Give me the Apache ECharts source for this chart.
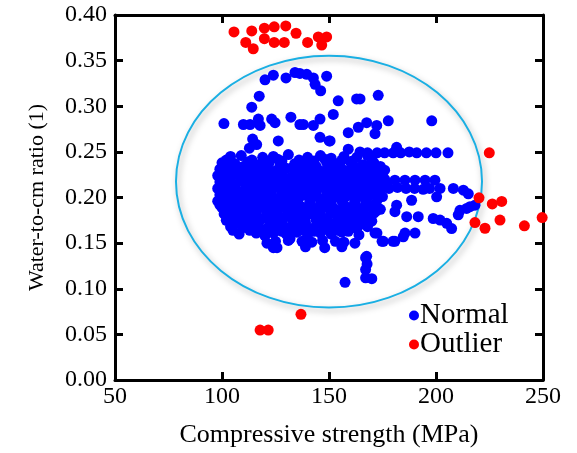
<!DOCTYPE html>
<html>
<head>
<meta charset="utf-8">
<script src="https://cdn.jsdelivr.net/npm/echarts@6/dist/echarts.min.js"></script>
<style>
  html, body { margin: 0; padding: 0; background: #fff; }
  #chart { width: 577px; height: 453px; }
</style>
</head>
<body>
<div id="chart"></div>
<script>
const xTicks = [50, 100, 150, 200, 250];
const yTicks = [0, 0.05, 0.1, 0.15, 0.2, 0.25, 0.3, 0.35, 0.4];

// ellipse around the normal cloud: [cx, cy, rx, ry] in data units
const ellipseSpec = [150, 0.2174, 71.5, 0.138];

const outlierPoints = [
  [105.6, 0.3815], [111.1, 0.370], [114.6, 0.363], [113.9, 0.3826], [119.8, 0.3855],
  [119.8, 0.374], [124.4, 0.387], [124.4, 0.370], [129.8, 0.388], [129.1, 0.370],
  [134.6, 0.380], [140.0, 0.370], [145.0, 0.376], [148.9, 0.376], [146.6, 0.367],
  [224.9, 0.249], [220.1, 0.1997], [226.3, 0.193], [230.7, 0.1957], [218.2, 0.1725],
  [222.9, 0.1663], [229.9, 0.1753], [241.3, 0.169], [249.6, 0.178],
  [117.8, 0.0547], [121.6, 0.0547], [136.9, 0.072]
];

const normalUpper = [
  [120.1, 0.329], [124.0, 0.334], [129.9, 0.331], [134.1, 0.337], [136.4, 0.336],
  [139.6, 0.335], [142.7, 0.331], [148.9, 0.333], [143.5, 0.324], [146.1, 0.317],
  [117.4, 0.311], [113.9, 0.299], [154.3, 0.306], [162.9, 0.308], [164.5, 0.308],
  [173.0, 0.312], [152.0, 0.291], [100.9, 0.281], [110.0, 0.280], [113.1, 0.280],
  [117.0, 0.286], [117.8, 0.279], [123.2, 0.286], [124.8, 0.282], [132.2, 0.288],
  [136.4, 0.280], [138.0, 0.280], [142.7, 0.279], [145.8, 0.286], [145.8, 0.266],
  [150.1, 0.262], [159.0, 0.271], [163.7, 0.277], [167.6, 0.282], [172.3, 0.279],
  [177.7, 0.284], [171.5, 0.270], [198.0, 0.284], [114.3, 0.264], [112.8, 0.254],
  [116.2, 0.258], [126.3, 0.262], [159.0, 0.253], [150.5, 0.262]
];

const normalRight = [
  [164.5, 0.250], [168.0, 0.249], [172.5, 0.249], [176.0, 0.249], [180.0, 0.249],
  [183.5, 0.249], [187.5, 0.250], [191.0, 0.249], [195.5, 0.249], [200.0, 0.249],
  [205.6, 0.249], [181.6, 0.255],
  [172.0, 0.221], [176.0, 0.220], [180.8, 0.219], [185.5, 0.219], [190.2, 0.219],
  [194.9, 0.219], [199.5, 0.219],
  [170.5, 0.210], [174.0, 0.209], [178.0, 0.210], [182.0, 0.211], [186.0, 0.210],
  [190.0, 0.210], [194.0, 0.209], [197.0, 0.210], [201.9, 0.210], [208.1, 0.210],
  [212.8, 0.208], [215.1, 0.204],
  [200.3, 0.2007], [188.6, 0.197], [181.6, 0.1916], [180.8, 0.1845], [186.3, 0.179],
  [191.7, 0.179], [198.7, 0.177], [201.9, 0.1753], [205.0, 0.1717], [207.3, 0.166],
  [210.4, 0.181], [211.2, 0.186], [214.3, 0.188], [215.9, 0.190], [218.2, 0.1916],
  [180.8, 0.152], [184.7, 0.157], [190.2, 0.161], [185.5, 0.161], [175.4, 0.152],
  [171.5, 0.161], [167.6, 0.1355]
];

const normalLower = [
  [157.5, 0.107], [167.1, 0.121], [167.1, 0.112], [170.0, 0.111], [167.1, 0.134],
  [167.8, 0.127],
  [105.1, 0.164], [109.8, 0.168], [120.1, 0.158], [121.0, 0.150], [125.7, 0.145],
  [131.8, 0.155], [137.4, 0.152], [138.8, 0.152], [156.5, 0.150], [162.1, 0.150],
  [174.8, 0.152], [179.9, 0.152], [172.4, 0.161]
];

const normalCore = [
  [104, 0.245], [109, 0.246], [119, 0.244], [124, 0.245], [131, 0.247], [140, 0.244], [146, 0.246],
  [151, 0.243], [157, 0.245], [163, 0.244], [168, 0.246],
  [100, 0.238], [106, 0.237], [112, 0.239], [117, 0.236], [122, 0.238], [128, 0.240], [134, 0.237],
  [138, 0.239], [143, 0.236], [149, 0.238], [154, 0.237], [160, 0.239], [166, 0.236], [171, 0.238],
  [99, 0.231], [103, 0.229], [108, 0.232], [114, 0.230], [119, 0.231], [125, 0.229], [130, 0.232],
  [136, 0.230], [141, 0.231], [146, 0.229], [152, 0.232], [157, 0.230], [162, 0.231], [167, 0.229],
  [172, 0.232], [176, 0.230],
  [98, 0.224], [102, 0.223], [107, 0.225], [111, 0.222], [116, 0.224], [121, 0.223], [127, 0.225],
  [132, 0.222], [137, 0.224], [143, 0.223], [148, 0.225], [153, 0.222], [158, 0.224], [164, 0.223],
  [169, 0.225], [174, 0.222],
  [99, 0.217], [104, 0.216], [109, 0.218], [113, 0.215], [118, 0.217], [124, 0.216], [129, 0.218],
  [134, 0.215], [139, 0.217], [145, 0.216], [150, 0.218], [155, 0.215], [161, 0.217], [166, 0.216],
  [171, 0.218], [177, 0.215],
  [98, 0.210], [101, 0.209], [106, 0.211], [111, 0.208], [116, 0.210], [120, 0.209], [126, 0.211],
  [131, 0.208], [136, 0.210], [141, 0.209], [147, 0.211], [152, 0.208], [157, 0.210], [163, 0.209],
  [168, 0.211], [173, 0.208],
  [99, 0.203], [103, 0.202], [108, 0.204], [113, 0.201], [118, 0.203], [123, 0.202], [128, 0.204],
  [133, 0.201], [138, 0.203], [144, 0.202], [149, 0.204], [154, 0.201], [160, 0.203], [165, 0.202],
  [170, 0.204], [175, 0.201],
  [98, 0.196], [101, 0.195], [106, 0.197], [110, 0.194], [115, 0.196], [120, 0.195], [125, 0.197],
  [130, 0.194], [135, 0.196], [141, 0.195], [146, 0.197], [151, 0.194], [156, 0.196], [162, 0.195],
  [167, 0.197], [172, 0.194],
  [100, 0.189], [104, 0.188], [109, 0.190], [114, 0.187], [118, 0.189], [123, 0.188], [128, 0.190],
  [133, 0.187], [138, 0.189], [143, 0.188], [148, 0.190], [153, 0.187], [159, 0.189], [164, 0.188],
  [169, 0.190], [174, 0.187],
  [101, 0.182], [106, 0.181], [111, 0.183], [116, 0.180], [121, 0.182], [126, 0.181], [131, 0.183],
  [136, 0.180], [141, 0.182], [146, 0.181], [151, 0.183], [156, 0.180], [161, 0.182], [166, 0.181],
  [171, 0.183],
  [102, 0.175], [107, 0.174], [112, 0.176], [117, 0.173], [122, 0.175], [127, 0.174], [133, 0.176],
  [139, 0.173], [144, 0.175], [149, 0.174], [154, 0.176], [160, 0.173], [165, 0.175], [170, 0.174],
  [104, 0.168], [110, 0.167], [115, 0.169], [121, 0.166], [126, 0.168], [131, 0.167], [137, 0.169],
  [142, 0.166], [148, 0.168], [153, 0.167], [158, 0.169], [163, 0.166], [168, 0.168],
  [108, 0.160], [116, 0.161], [120, 0.159], [124, 0.161], [130, 0.160], [135, 0.162], [140, 0.159],
  [146, 0.161], [151, 0.160], [156, 0.162], [164, 0.159],
  [125, 0.152], [131, 0.153], [142, 0.151], [147, 0.153], [153, 0.152], [157, 0.151],
  [124, 0.145], [139, 0.146], [148, 0.145], [156, 0.146]
];

const normalCoreFill = [
  [102, 0.241], [114, 0.241], [121, 0.240], [126, 0.242], [136, 0.241], [143, 0.240], [148, 0.242],
  [156, 0.241], [161, 0.240], [170, 0.242],
  [101, 0.234], [105, 0.235], [110, 0.234], [116, 0.233], [121, 0.235], [127, 0.234], [133, 0.233],
  [139, 0.235], [144, 0.234], [150, 0.233], [155, 0.235], [161, 0.234], [164, 0.233], [169, 0.235],
  [174, 0.234],
  [100, 0.227], [105, 0.228], [109, 0.227], [113, 0.226], [118, 0.228], [123, 0.227], [128, 0.226],
  [134, 0.228], [139, 0.227], [144, 0.226], [150, 0.228], [155, 0.227], [160, 0.226], [166, 0.228],
  [171, 0.227], [175, 0.226],
  [100, 0.220], [104, 0.221], [109, 0.220], [114, 0.219], [119, 0.221], [125, 0.220], [130, 0.219],
  [135, 0.221], [141, 0.220], [146, 0.219], [151, 0.221], [156, 0.220], [161, 0.219], [167, 0.221],
  [172, 0.220],
  [101, 0.213], [106, 0.214], [111, 0.213], [116, 0.212], [121, 0.214], [127, 0.213], [132, 0.212],
  [137, 0.214], [142, 0.213], [148, 0.212], [153, 0.214], [159, 0.213], [164, 0.212], [169, 0.214],
  [175, 0.213],
  [100, 0.206], [104, 0.207], [109, 0.206], [114, 0.205], [118, 0.207], [123, 0.206], [128, 0.205],
  [134, 0.207], [139, 0.206], [144, 0.205], [150, 0.207], [155, 0.206], [160, 0.205], [166, 0.207],
  [171, 0.206],
  [100, 0.199], [105, 0.200], [110, 0.199], [115, 0.198], [121, 0.200], [126, 0.199], [131, 0.198],
  [136, 0.200], [141, 0.199], [147, 0.198], [152, 0.200], [157, 0.199], [162, 0.198], [168, 0.200],
  [173, 0.199],
  [99, 0.192], [103, 0.193], [108, 0.192], [112, 0.191], [117, 0.193], [122, 0.192], [127, 0.191],
  [132, 0.193], [136, 0.192], [141, 0.191], [146, 0.193], [151, 0.192], [157, 0.191], [162, 0.193],
  [167, 0.192], [172, 0.191],
  [102, 0.185], [107, 0.186], [111, 0.185], [116, 0.184], [121, 0.186], [126, 0.185], [131, 0.184],
  [136, 0.186], [141, 0.185], [146, 0.184], [151, 0.186], [156, 0.185], [161, 0.184], [166, 0.186],
  [172, 0.185],
  [104, 0.178], [109, 0.179], [114, 0.178], [119, 0.177], [124, 0.179], [129, 0.178], [134, 0.177],
  [139, 0.179], [144, 0.178], [149, 0.177], [154, 0.179], [158, 0.178], [163, 0.177], [168, 0.179],
  [106, 0.171], [112, 0.172], [117, 0.171], [123, 0.170], [128, 0.172], [134, 0.171], [139, 0.170],
  [145, 0.172], [151, 0.171], [156, 0.170], [161, 0.172], [166, 0.171],
  [113, 0.164], [118, 0.165], [123, 0.164], [128, 0.163], [133, 0.165], [138, 0.164], [143, 0.163],
  [149, 0.165], [154, 0.164], [159, 0.163]
];

const normalPoints = normalUpper.concat(normalRight, normalLower, normalCore, normalCoreFill);

const serif = "'Liberation Serif', 'Times New Roman', serif";

const chart = echarts.init(document.getElementById('chart'));

function frameAxis(extra) {
  return Object.assign({
    type: 'value',
    axisLine: { show: true, onZero: false, lineStyle: { color: '#000', width: 3 } },
    axisTick: { show: true, inside: true, length: 8, lineStyle: { color: '#000', width: 3 } },
    splitLine: { show: false }
  }, extra);
}

chart.setOption({
  animation: false,
  grid: { left: 115, right: 34, top: 15, bottom: 70 },
  legend: {
    left: 404,
    top: 296,
    orient: 'vertical',
    itemGap: 0,
    itemWidth: 10,
    itemHeight: 10,
    icon: 'circle',
    textStyle: { fontFamily: serif, fontSize: 29, color: '#000', padding: [0, 0, 0, -4] },
    data: ['Normal', 'Outlier']
  },
  xAxis: [frameAxis({
    min: 50, max: 250, interval: 50,
    name: 'Compressive strength (MPa)', nameLocation: 'middle', nameGap: 42,
    nameTextStyle: { fontFamily: serif, fontSize: 26, color: '#000' },
    axisLabel: { fontFamily: serif, fontSize: 24, color: '#000', margin: 5,
      formatter: v => xTicks.includes(v) ? String(v) : '' }
  }), frameAxis({
    position: 'top', min: 50, max: 250, interval: 50, axisLabel: { show: false }
  })],
  yAxis: [frameAxis({
    min: 0, max: 0.4, interval: 0.05,
    name: 'Water-to-cm ratio (1)', nameLocation: 'middle', nameGap: 67,
    nameTextStyle: { fontFamily: serif, fontSize: 22, color: '#000' },
    axisLabel: { fontFamily: serif, fontSize: 24, color: '#000', margin: 8,
      formatter: v => yTicks.some(t => Math.abs(t - v) < 1e-9) ? v.toFixed(2) : '' }
  }), frameAxis({
    position: 'right', min: 0, max: 0.4, interval: 0.05, axisLabel: { show: false }
  })],
  series: [
    {
      type: 'custom',
      silent: true,
      z: 1,
      data: [ellipseSpec],
      renderItem: function (params, api) {
        const c = api.coord([api.value(0), api.value(1)]);
        const s = api.size([api.value(2), api.value(3)]);
        return {
          type: 'ellipse',
          shape: { cx: c[0], cy: c[1], rx: s[0], ry: s[1] },
          style: {
            fill: 'none', stroke: '#1AAFE3', lineWidth: 2,
            shadowBlur: 6, shadowColor: 'rgba(0,0,0,0.35)', shadowOffsetX: 2, shadowOffsetY: 3
          }
        };
      }
    },
    {
      name: 'Normal', type: 'scatter', z: 3, symbolSize: 11,
      itemStyle: { color: '#0000FF', opacity: 1 },
      data: normalPoints
    },
    {
      name: 'Outlier', type: 'scatter', z: 4, symbolSize: 11,
      itemStyle: { color: '#FF0000', opacity: 1 },
      data: outlierPoints
    }
  ]
});
</script>
</body>
</html>
